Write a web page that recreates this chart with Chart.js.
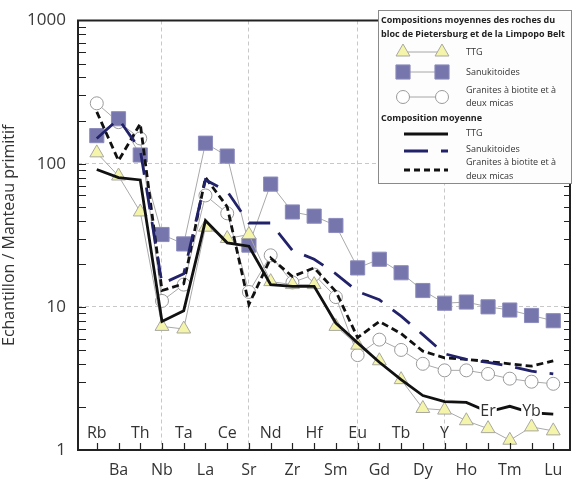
<!DOCTYPE html>
<html>
<head>
<meta charset="utf-8">
<script src="https://cdn.jsdelivr.net/npm/chart.js@4.4.1/dist/chart.umd.min.js"></script>
<style>
  html, body { margin: 0; padding: 0; background: #fff; }
  #wrap { width: 581px; height: 484px; }
</style>
</head>
<body>
<div id="wrap"><canvas id="spider" width="581" height="484"></canvas></div>
<script>
(function () {
  'use strict';

  // Elements, in diagram order
  var ELEMENTS = ['Rb', 'Ba', 'Th', 'Nb', 'Ta', 'La', 'Ce', 'Sr', 'Nd', 'Zr', 'Hf',
                  'Sm', 'Eu', 'Gd', 'Tb', 'Dy', 'Y', 'Ho', 'Er', 'Tm', 'Yb', 'Lu'];

  // Pietersburg / Limpopo Belt averages (markers)
  var TTG_ROCKS   = [119, 82, 46, 7.3, 7.0, 36, 30, 32, 15, 14.3, 14.3, 7.3, 5.4, 4.2, 3.1, 1.95, 1.9, 1.6, 1.41, 1.17, 1.45, 1.36];
  var SANUK_ROCKS = [157, 206, 115, 32, 27.5, 139, 113, 27, 72, 46, 43, 37, 18.7, 21.5, 17.3, 13, 10.6, 10.8, 10, 9.5, 8.7, 8.0];
  var GRAN_ROCKS  = [264, 195, 150, 11, 14.3, 60, 45, 12.7, 22.9, 14.8, 16.8, 11.7, 4.6, 5.9, 5.0, 4.0, 3.6, 3.6, 3.4, 3.15, 3.0, 2.9];

  // Composition moyenne (lines)
  var TTG_MEAN   = [91, 80, 77, 7.9, 9.4, 40, 28, 26.5, 14.3, 13.9, 13.9, 7.7, 5.6, 4.1, 3.1, 2.4, 2.18, 2.15, 1.85, 2.02, 1.82, 1.78];
  var SANUK_MEAN = [150, 205, 125, 14.5, 17, 77, 64, 38.5, 38.5, 24.8, 21.5, 17, 12.8, 11.2, 8.6, 6.4, 4.7, 4.3, 4.1, 3.85, 3.55, 3.4];
  var GRAN_MEAN  = [230, 105, 190, 13, 14.5, 80, 50, 10.4, 21.9, 16.3, 18.7, 12.8, 6.1, 7.9, 6.5, 4.9, 4.4, 4.3, 4.15, 4.0, 3.85, 4.2];

  var Y_TICKS = [1, 10, 100, 1000];
  var GRID_ELEMENTS = ['Nb', 'Sr', 'Eu', 'Y'];
  var RAISED_LABELS = ['Er', 'Yb'];

  var FONT = "'Open Sans', 'Liberation Sans', sans-serif";
  var NAVY = '#22226a';
  var GRID_GRAY = '#c8c8c8';

  function pts(values) {
    return values.map(function (v, i) { return { x: i, y: v }; });
  }

  function drawMarker(ctx, style, radius, x, y) {
    if (Chart.helpers && Chart.helpers.drawPoint) {
      Chart.helpers.drawPoint(ctx, { pointStyle: style, radius: radius, rotation: 0, borderWidth: 1 }, x, y);
    }
  }

  // Box, inward ticks and the two rows of element labels
  var framePlugin = {
    id: 'frame',
    afterDatasetsDraw: function (chart) {
      var ctx = chart.ctx, a = chart.chartArea;
      var xs = chart.scales.x, ys = chart.scales.y;
      ctx.save();
      ctx.strokeStyle = '#222';
      ctx.lineWidth = 1.2;
      ctx.beginPath();
      for (var k = 0; k < 3; k++) {
        for (var m = 1; m <= 9; m++) {
          var v = m * Math.pow(10, k);
          if (v === 1) continue;
          var py = Math.round(ys.getPixelForValue(v)) + 0.5;
          ctx.moveTo(a.left, py); ctx.lineTo(a.left + 8, py);
          ctx.moveTo(a.right, py); ctx.lineTo(a.right - 6, py);
        }
      }
      ELEMENTS.forEach(function (el, i) {
        var px = Math.round(xs.getPixelForValue(i)) + 0.5;
        ctx.moveTo(px, a.bottom); ctx.lineTo(px, a.bottom - 7);
      });
      ctx.stroke();

      ctx.lineWidth = 2;
      ctx.strokeRect(a.left, a.top, a.right - a.left, a.bottom - a.top);

      ctx.font = '16px ' + FONT;
      ctx.fillStyle = '#333';
      ctx.textAlign = 'center';
      ctx.textBaseline = 'middle';
      ELEMENTS.forEach(function (el, i) {
        var px = xs.getPixelForValue(i);
        var py = (i % 2 === 0) ? a.bottom - 17 : a.bottom + 20;
        if (RAISED_LABELS.indexOf(el) >= 0) {
          py = a.bottom - 39;
          var w = ctx.measureText(el).width;
          ctx.fillStyle = '#fff';
          ctx.fillRect(px - w / 2 - 1, py - 8, w + 2, 16);
          ctx.fillStyle = '#333';
        }
        ctx.fillText(el, px, py);
      });
      ctx.restore();
    },
    afterDraw: function (chart) {
      var ctx = chart.ctx;
      var L = 378.5, T = 10.5, W = 193, H = 173;
      var m1 = 403, m2 = 442, tx = 466;
      ctx.save();
      ctx.fillStyle = '#fdfdfd';
      ctx.strokeStyle = '#8a8a8a';
      ctx.lineWidth = 1;
      ctx.fillRect(L, T, W, H);
      ctx.strokeRect(L, T, W, H);

      ctx.textAlign = 'left';
      ctx.textBaseline = 'middle';
      ctx.fillStyle = '#222';
      ctx.font = 'bold 9px ' + FONT;
      ctx.fillText('Compositions moyennes des roches du', 381, 20, 187);
      ctx.fillText('bloc de Pietersburg et de la Limpopo Belt', 381, 34, 188);
      ctx.fillText('Composition moyenne', 381, 118, 125);

      ctx.font = '9px ' + FONT;
      ctx.fillStyle = '#333';
      ctx.fillText('TTG', tx, 52);
      ctx.fillText('Sanukitoides', tx, 72);
      ctx.fillText('Granites \u00e0 biotite et \u00e0', tx, 90, 95);
      ctx.fillText('deux micas', tx, 103);
      ctx.fillText('TTG', tx, 133);
      ctx.fillText('Sanukitoides', tx, 149);
      ctx.fillText('Granites \u00e0 biotite et \u00e0', tx, 162, 95);
      ctx.fillText('deux micas', tx, 176);

      // marker rows
      var rows = [
        { y: 52, style: 'triangle', r: 8, fill: '#f4f4aa', stroke: '#a8a8a0' },
        { y: 72, style: 'rect', r: 10, fill: '#7676ad', stroke: '#8c8cbd' },
        { y: 97, style: 'circle', r: 6.5, fill: '#ffffff', stroke: '#9a9a9a' }
      ];
      rows.forEach(function (r) {
        ctx.strokeStyle = '#a6a6a6';
        ctx.lineWidth = 1;
        ctx.setLineDash([]);
        ctx.beginPath(); ctx.moveTo(m1, r.y); ctx.lineTo(m2, r.y); ctx.stroke();
        ctx.fillStyle = r.fill;
        ctx.strokeStyle = r.stroke;
        drawMarker(ctx, r.style, r.r, m1, r.y);
        drawMarker(ctx, r.style, r.r, m2, r.y);
      });

      // line rows
      var lines = [
        { y: 134, color: '#111', width: 2.8, dash: [] },
        { y: 151, color: NAVY, width: 2.8, dash: [24, 13] },
        { y: 170, color: '#111', width: 2.8, dash: [6, 4] }
      ];
      lines.forEach(function (l) {
        ctx.strokeStyle = l.color;
        ctx.lineWidth = l.width;
        ctx.setLineDash(l.dash);
        ctx.beginPath(); ctx.moveTo(404, l.y); ctx.lineTo(448, l.y); ctx.stroke();
      });
      ctx.restore();
    }
  };

  function sampleSet(label, values, style, radius, fill, stroke) {
    return {
      label: label,
      data: pts(values),
      showLine: true,
      borderColor: '#a9a9a9',
      borderWidth: 1,
      pointStyle: style,
      pointRadius: radius,
      pointBackgroundColor: fill,
      pointBorderColor: stroke,
      pointBorderWidth: 1,
      tension: 0,
      order: 2
    };
  }

  function meanSet(label, values, color, dash) {
    return {
      label: label,
      data: pts(values),
      showLine: true,
      borderColor: color,
      borderWidth: 2.8,
      borderDash: dash,
      pointRadius: 0,
      tension: 0,
      order: 1
    };
  }

  new Chart(document.getElementById('spider').getContext('2d'), {
    type: 'line',
    data: {
      datasets: [
        meanSet('TTG moyenne', TTG_MEAN, '#111', []),
        meanSet('Sanukitoides moyenne', SANUK_MEAN, NAVY, [22, 13]),
        meanSet('Granites moyenne', GRAN_MEAN, '#111', [7, 4]),
        sampleSet('TTG', TTG_ROCKS, 'triangle', 8, '#f4f4aa', '#a8a8a0'),
        sampleSet('Sanukitoides', SANUK_ROCKS, 'rect', 10, '#7676ad', '#8c8cbd'),
        sampleSet('Granites', GRAN_ROCKS, 'circle', 6.5, '#ffffff', '#9a9a9a')
      ]
    },
    options: {
      responsive: false,
      devicePixelRatio: 1,
      animation: false,
      layout: { padding: { left: 0, top: 9, right: 5, bottom: 0 } },
      scales: {
        x: {
          type: 'linear',
          min: -0.864,
          max: 21.77,
          afterBuildTicks: function (scale) {
            scale.ticks = ELEMENTS.map(function (el, i) { return { value: i }; });
          },
          afterFit: function (scale) { scale.height = 34; },
          ticks: { display: false },
          grid: {
            drawTicks: false,
            lineWidth: 1,
            color: function (c) {
              var el = ELEMENTS[c.tick ? c.tick.value : -1];
              return GRID_ELEMENTS.indexOf(el) >= 0 ? GRID_GRAY : 'rgba(0,0,0,0)';
            }
          },
          border: { display: false, dash: [4, 3] }
        },
        y: {
          type: 'logarithmic',
          min: 1,
          max: 1000,
          afterBuildTicks: function (scale) {
            scale.ticks = Y_TICKS.map(function (v) { return { value: v, major: true }; });
          },
          afterFit: function (scale) { scale.width = 78; },
          ticks: {
            padding: 12,
            color: '#3a3a3a',
            font: { family: FONT, size: 17, lineHeight: 1 },
            callback: function (v) { return String(v); }
          },
          grid: {
            drawTicks: false,
            lineWidth: 1,
            color: function (c) {
              var v = c.tick ? c.tick.value : 0;
              return (v === 10 || v === 100) ? GRID_GRAY : 'rgba(0,0,0,0)';
            }
          },
          border: { display: false, dash: [4, 3] },
          title: {
            display: true,
            text: 'Echantillon / Manteau primitif',
            color: '#333',
            font: { family: FONT, size: 16 },
            padding: { top: 0, bottom: 0 }
          }
        }
      },
      plugins: {
        legend: { display: false },
        tooltip: { enabled: false }
      }
    },
    plugins: [framePlugin]
  });
})();
</script>
</body>
</html>
